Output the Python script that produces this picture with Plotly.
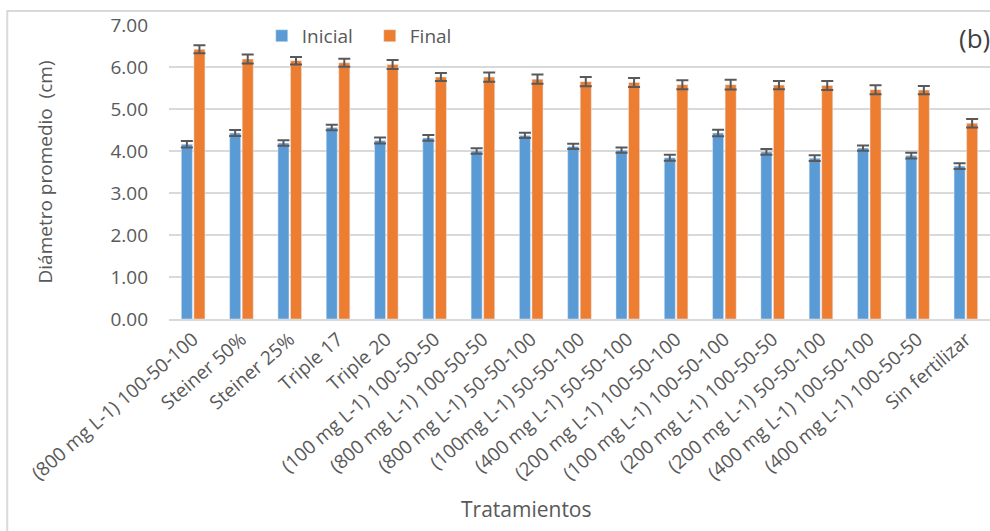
import plotly.graph_objects as go

# Treatments (x categories)
tratamientos = [
    "(800 mg L-1) 100-50-100", "Steiner 50%", "Steiner 25%", "Triple 17", "Triple 20",
    "(100 mg L-1) 100-50-50", "(800 mg L-1) 100-50-50", "(800 mg L-1) 50-50-100",
    "(100mg L-1) 50-50-100", "(400 mg L-1) 50-50-100", "(200 mg L-1) 100-50-100",
    "(100 mg L-1) 100-50-100", "(200 mg L-1) 100-50-50", "(200 mg L-1) 50-50-100",
    "(400 mg L-1) 100-50-100", "(400 mg L-1) 100-50-50", "Sin fertilizar",
]

# Mean diameter (cm) and error half-widths
inicial = [4.16, 4.43, 4.19, 4.56, 4.25, 4.31, 4.00, 4.37, 4.11, 4.02, 3.84,
           4.43, 3.98, 3.83, 4.07, 3.89, 3.64]
inicial_err = [0.076, 0.07, 0.063, 0.063, 0.07, 0.068, 0.068, 0.063, 0.063, 0.063,
               0.07, 0.078, 0.07, 0.068, 0.063, 0.07, 0.07]
final = [6.42, 6.19, 6.15, 6.10, 6.06, 5.76, 5.76, 5.71, 5.65, 5.63, 5.58,
         5.58, 5.57, 5.56, 5.46, 5.45, 4.66]
final_err = [0.095, 0.107, 0.09, 0.095, 0.107, 0.095, 0.11, 0.11, 0.11, 0.107,
             0.107, 0.114, 0.098, 0.107, 0.107, 0.098, 0.10]

y_ticks = [0, 1, 2, 3, 4, 5, 6, 7]

FONT = "Open Sans"
GRAY = "#595959"
GRID = "#d9d9d9"

err_style = dict(type="data", color=GRAY, thickness=2, width=6, visible=True)

fig = go.Figure()
fig.add_trace(go.Bar(
    name="Inicial", x=tratamientos, y=inicial, marker_color="#5b9bd5",
    error_y=dict(array=inicial_err, **err_style),
))
fig.add_trace(go.Bar(
    name="Final", x=tratamientos, y=final, marker_color="#ed7d31",
    error_y=dict(array=final_err, **err_style),
))

# Outer chart frame
fig.add_shape(type="rect", xref="paper", yref="paper",
              x0=-0.197, x1=1.05, y0=-0.9, y1=1.048,
              line=dict(color=GRID, width=2), fillcolor="rgba(0,0,0,0)", layer="below")

fig.add_annotation(text="(b)", xref="paper", yref="paper", x=1.003, y=0.955,
                   xanchor="right", yanchor="middle", showarrow=False,
                   font=dict(family=FONT, size=26, color="#404040"))

# X axis title, centred under the chart
fig.add_annotation(text="Tratamientos", xref="paper", yref="paper", x=0.436, y=-0.646,
                   xanchor="center", yanchor="middle", showarrow=False,
                   font=dict(family=FONT, size=21, color=GRAY))

fig.update_layout(
    width=990, height=531,
    margin=dict(l=169, r=0, t=25, b=212, autoexpand=False),
    paper_bgcolor="white", plot_bgcolor="white",
    barmode="group", bargap=0.48, bargroupgap=0.12,
    font=dict(family=FONT, color=GRAY),
    showlegend=True,
    legend=dict(orientation="h", x=0.113, y=0.963, xanchor="left", yanchor="middle",
                entrywidth=63, entrywidthmode="pixels",
                font=dict(family=FONT, size=19, color=GRAY),
                bgcolor="rgba(0,0,0,0)"),
    xaxis=dict(
        tickangle=-41, tickfont=dict(family=FONT, size=19, color=GRAY),
        showline=True, linecolor=GRID, linewidth=2, showgrid=False, ticks="",
        automargin=False,
    ),
    yaxis=dict(
        range=[0, 7], tickvals=y_ticks, tickformat=".2f",
        tickfont=dict(family=FONT, size=19, color=GRAY),
        showgrid=True, gridcolor=GRID, gridwidth=2, zeroline=False,
        showline=False, ticks="", ticklabelstandoff=20,
        title=dict(text="Diámetro promedio  (cm)", standoff=52,
                   font=dict(family=FONT, size=19, color=GRAY)),
        automargin=False,
    ),
)

fig.write_html("out.html")
